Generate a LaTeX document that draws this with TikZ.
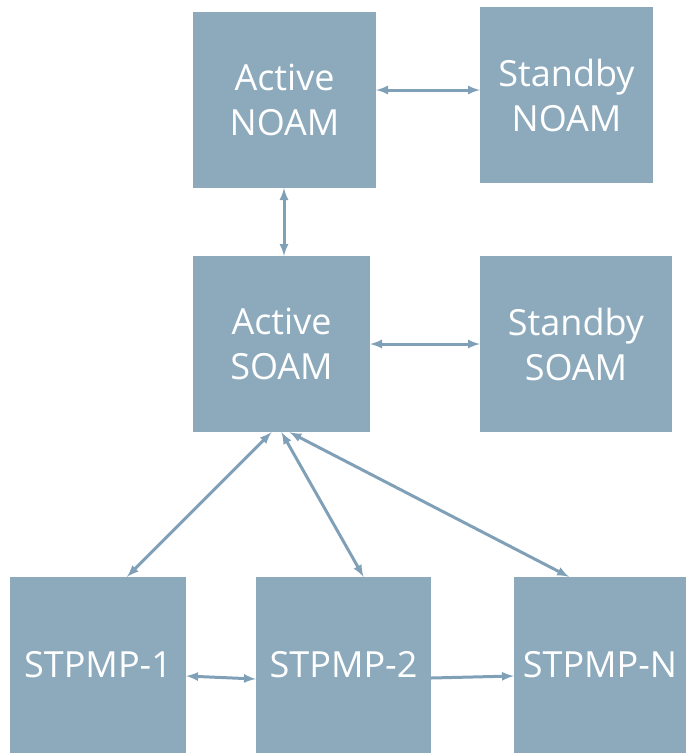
\documentclass[tikz,border=0pt]{standalone}
\usepackage{fontspec}
\setmainfont{Open Sans}
\usetikzlibrary{arrows,shapes}

\definecolor{boxblue}{RGB}{141,170,189}
\definecolor{linkblue}{RGB}{128,160,184}

\tikzset{
	server/.style={rectangle, fill=boxblue, text=white, align=center, inner sep=0pt,
		minimum height=176pt, font=\fontsize{36}{45}\selectfont},
	link/.style={latex-latex, draw=linkblue, line width=3pt},
	onelink/.style={-latex, draw=linkblue, line width=3pt}
}

\begin{document}
\begin{tikzpicture}[x=1pt,y=-1pt]
		
		\useasboundingbox (0,0) rectangle (686,753);
		
		\node[server, minimum width=183pt] (anoam) at (284.5,100) {Active\\NOAM};
		\node[server, minimum width=173pt] (snoam) at (566.5,95) {Standby\\NOAM};
		\node[server, minimum width=177pt] (asoam) at (281.5,344) {Active\\SOAM};
		\node[server, minimum width=192pt] (ssoam) at (576,344) {Standby\\SOAM};
		\node[server, minimum width=176pt] (stpa) at (98,665) {STPMP-1};
		\node[server, minimum width=175pt] (stpb) at (343.5,665) {STPMP-2};
		\node[server, minimum width=172pt] (stpn) at (600,665) {STPMP-N};
		
		\draw[link] ([yshift=10pt]anoam.east) -- ([yshift=5pt]snoam.west);
		\draw[link] ([xshift=-0.5pt]anoam.south) -- ([xshift=2.5pt]asoam.north);
		\draw[link] (asoam.east) -- (ssoam.west);
		
		\draw[link] ([xshift=-10pt]asoam.south) -- ([xshift=29pt]stpa.north);
		\draw[link] (asoam.south) -- ([xshift=20pt]stpb.north);
		\draw[link] ([xshift=8pt]asoam.south) -- ([xshift=-31pt]stpn.north);
		
		\draw[link] ([yshift=-11pt]stpa.east) -- ([yshift=-14pt]stpb.west);
		\draw[onelink] ([yshift=-13pt]stpb.east) -- ([yshift=-11pt]stpn.west);
		\end{tikzpicture}
\end{document}
